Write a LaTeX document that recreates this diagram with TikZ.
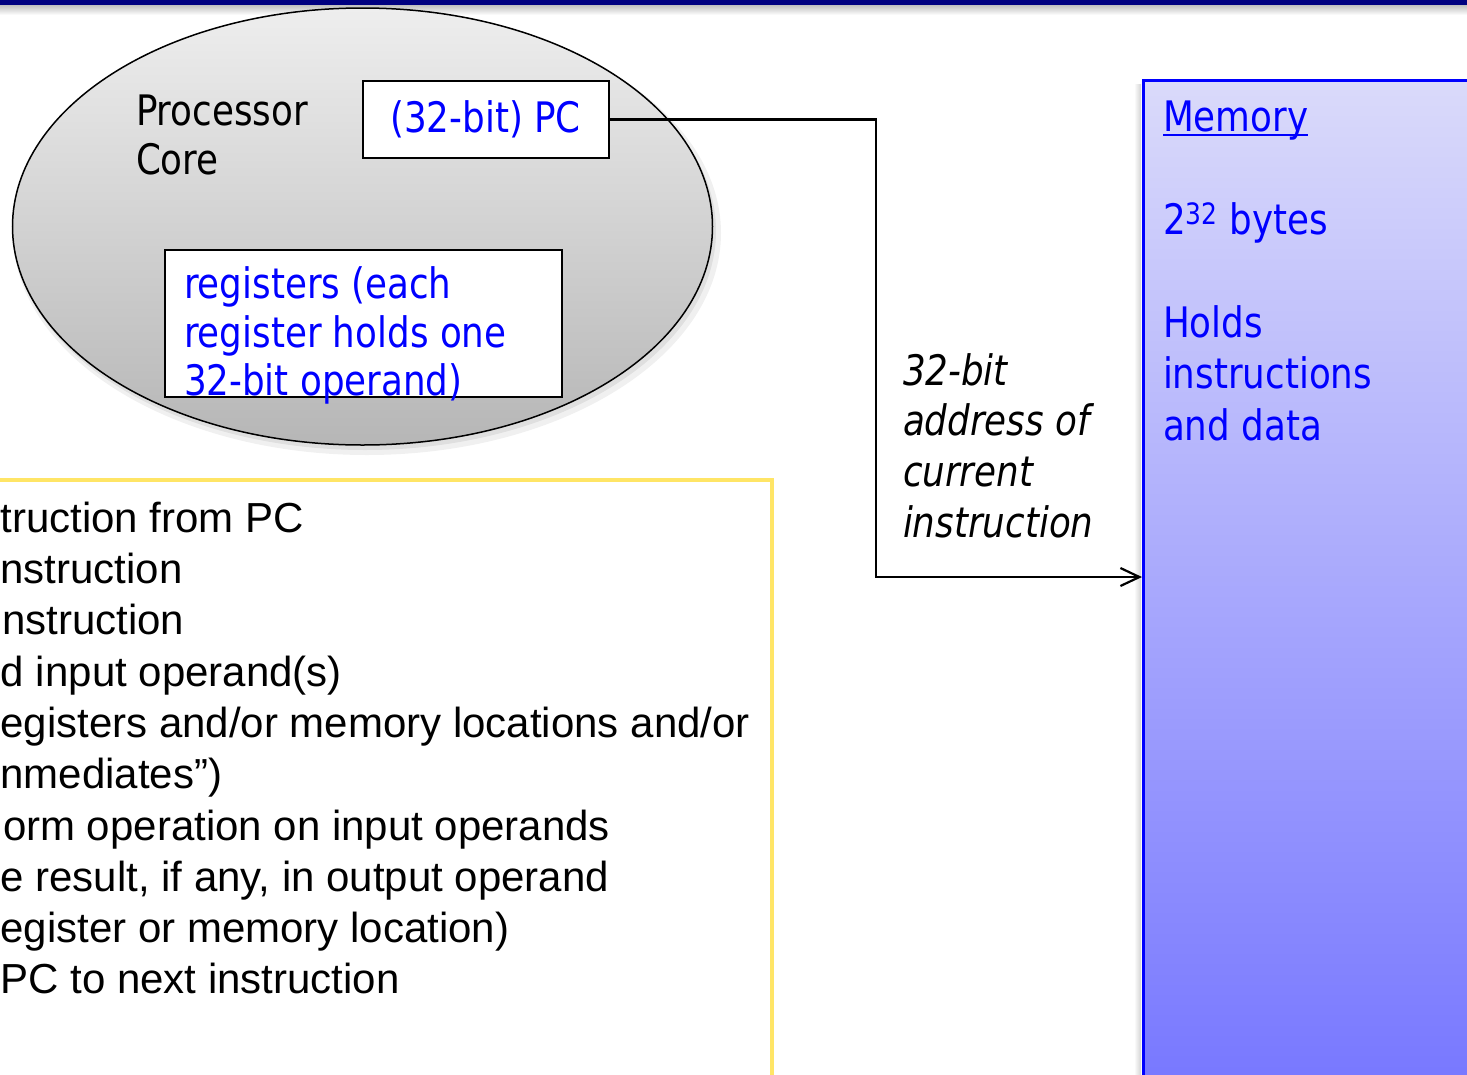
\documentclass[tikz,border=0pt]{standalone}
\usepackage{fontspec}
\setmainfont{DejaVu Sans}[FakeStretch=0.85]
\newfontfamily\arialfont{Liberation Sans}
\usetikzlibrary{arrows.meta,shapes.geometric}
\definecolor{navybar}{RGB}{0,0,128}
\definecolor{txtblue}{RGB}{0,0,255}
\definecolor{yellowline}{RGB}{255,229,102}
\definecolor{memtop}{RGB}{218,218,250}
\definecolor{membot}{RGB}{120,120,255}
\definecolor{coretop}{RGB}{238,238,238}
\definecolor{corebot}{RGB}{182,182,182}
\begin{document}
\begin{tikzpicture}[x=1pt,y=-1pt,
  tah/.style={font=\fontsize{42}{50}\selectfont, inner sep=0pt, outer sep=0pt, anchor=base west},
  tahblue/.style={tah, text=txtblue},
  tahit/.style={tah, font=\fontsize{42}{50}\selectfont\itshape},
  ar/.style={font=\arialfont\fontsize{42}{51}\selectfont, inner sep=0pt, outer sep=0pt, anchor=base west},
  wbox/.style={draw=black, line width=2pt, fill=white, inner sep=0pt},
  conn/.style={draw=black, line width=2.2pt},
]
\clip (0,0) rectangle (1467,1074);
\fill[white] (0,0) rectangle (1467,1074);
% top bar
\fill[navybar] (0,0) rectangle (1467,5);
\shade[top color=gray!50, bottom color=white] (0,5) rectangle (1467,15);
% processor core
\fill[black, opacity=0.06] (367,233) ellipse [x radius=354, y radius=222];
\fill[black, opacity=0.07] (365,231) ellipse [x radius=351, y radius=219];
\node[ellipse, draw=black, line width=1.5pt, top color=coretop, bottom color=corebot,
      minimum width=700, minimum height=437, inner sep=0pt] (core) at (362.5,226.5) {};
\node[tah] (p1) at (136,125) {Processor};
\node[tah] (p2) at (136,174) {Core};
\node[wbox, minimum width=246, minimum height=77, text=txtblue,
      font=\fontsize{42}{50}\selectfont] (pc) at (485.5,119.5) {(32-bit) PC};
\node[wbox, minimum width=397, minimum height=147] (regs) at (363,323.5) {};
\node[tahblue] (r1) at (184,298) {registers (each};
\node[tahblue] (r2) at (184,347) {register holds one};
\node[tahblue] (r3) at (184,395) {32-bit operand)};
% instruction steps box
\draw[yellowline, line width=4pt] (-20,480) -- (772,480) -- (772,1100);
\node[ar] (t1) at (0.5,532) {truction from PC};
\node[ar] (t2) at (0.5,583) {nstruction};
\node[ar] (t3) at (2,634) {nstruction};
\node[ar] (t4) at (1,686) {d input operand(s)};
\node[ar] (t5) at (0.5,737) {egisters and/or memory locations and/or};
\node[ar] (t6) at (0.5,788) {nmediates”)};
\node[ar] (t7) at (3,840) {orm operation on input operands};
\node[ar] (t8) at (0.5,891) {e result, if any, in output operand};
\node[ar] (t9) at (0.5,942) {egister or memory location)};
\node[ar] (t10) at (0.5,993) {PC to next instruction};
% memory
\shade[left color=white, right color=gray!35] (1134,84) rectangle (1141,1074);
\node[draw=txtblue, line width=2.5pt, top color=memtop, bottom color=membot,
      minimum width=340, minimum height=1001, anchor=north west, inner sep=0pt] (mem) at (1142,79) {};
\node[tahblue] (m1) at (1163,131) {Memory};
\draw[txtblue, line width=2pt] ([yshift=-4pt]m1.base west) -- ([yshift=-4pt]m1.base east);
\node[tahblue] (m2) at (1163,234) {2\textsuperscript{32} bytes};
\node[tahblue] (m3) at (1163,337) {Holds};
\node[tahblue] (m4) at (1163,388) {instructions};
\node[tahblue] (m5) at (1163,440) {and data};
% address label
\node[tahit] (l1) at (903,385) {32-bit};
\node[tahit] (l2) at (903,435) {address of};
\node[tahit] (l3) at (903,486) {current};
\node[tahit] (l4) at (903,537) {instruction};
% connector
\coordinate (turn) at (876,577);
\draw[conn, -{Straight Barb[length=19pt,width=18pt]}] (pc.east) -| (turn) -- (mem.west |- turn);
\end{tikzpicture}
\end{document}
